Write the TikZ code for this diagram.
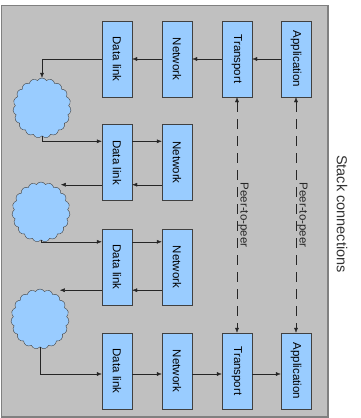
\documentclass[tikz,border=0pt]{standalone}
\usepackage{fontspec}
\setmainfont{Liberation Sans}
\usetikzlibrary{arrows.meta, shapes.symbols, calc}

\definecolor{layerblue}{HTML}{99CCFF}
\definecolor{panelgray}{HTML}{C0C0C0}

\newcommand{\vtext}[1]{\rotatebox{-90}{#1}}

\begin{document}
\begin{tikzpicture}[x=1pt, y=-1pt,
  layer/.style={draw=black!75, fill=layerblue, minimum width=30pt, minimum height=76pt,
                inner sep=0pt, font=\fontsize{11.5}{13}\selectfont},
  net/.style={cloud, cloud puffs=19, cloud puff arc=120, aspect=1, draw=black!75,
              fill=layerblue, minimum width=58pt, minimum height=60pt, inner sep=0pt},
  arr/.style={-{Latex[length=5pt,width=4pt]}, black!85, thin},
  peer/.style={{Latex[length=5pt,width=4pt]}-{Latex[length=5pt,width=4pt]}, black!85, thin,
               dash pattern=on 10pt off 7pt}]

  \useasboundingbox (0,0) rectangle (360,418);

  % Gray panel
  \draw[black!50, line width=1.2pt, fill=panelgray] (1.5,5.5) rectangle (328,417);
  \node[rotate=-90, font=\fontsize{14.5}{16}\selectfont, text=black!80] (title) at (342,214) {Stack connections};

  % Sending stack (top row)
  \node[layer] (ap1) at (296,59) {\vtext{Application}};
  \node[layer] (tr1) at (237,59) {\vtext{Transport}};
  \node[layer] (nw1) at (177,59) {\vtext{Network}};
  \node[layer] (dl1) at (117,59) {\vtext{Data link}};

  % Routers in between
  \foreach \r/\y in {2/162.5, 3/267} {
    \node[layer] (dl\r) at (117,\y) {\vtext{Data link}};
    \node[layer] (nw\r) at (177,\y) {\vtext{Network}};
  }

  % Receiving stack (bottom row)
  \node[layer] (dl4) at (117,371) {\vtext{Data link}};
  \node[layer] (nw4) at (177,371) {\vtext{Network}};
  \node[layer] (tr4) at (237,371) {\vtext{Transport}};
  \node[layer] (ap4) at (296,371) {\vtext{Application}};

  % Links (clouds)
  \node[net] (c1) at (42,108) {};
  \node[net] (c2) at (41,212) {};
  \node[net] (c3) at (40,319) {};

  % Down the sending stack
  \draw[arr] (ap1.west) -- (tr1.east);
  \draw[arr] (tr1.west) -- (nw1.east);
  \draw[arr] (nw1.west) -- (dl1.east);
  \draw[arr] (dl1.west) -| (c1.north);

  % First router
  \draw[arr] (c1.south) |- ([yshift=-17pt]dl2.north west);
  \draw[arr] ([yshift=-17pt]dl2.north east) -- ([yshift=-17pt]nw2.north west);
  \draw[arr] ([yshift=16pt]nw2.south west) -- ([yshift=16pt]dl2.south east);
  \draw[arr] ([yshift=16pt]dl2.south west) coordinate (o2) -- (o2 -| c2.north east);

  % Second router
  \draw[arr] (c2.south) |- ([yshift=-13pt]dl3.north west);
  \draw[arr] ([yshift=-13pt]dl3.north east) -- ([yshift=-13pt]nw3.north west);
  \draw[arr] ([yshift=15pt]nw3.south west) -- ([yshift=15pt]dl3.south east);
  \draw[arr] ([yshift=15pt]dl3.south west) coordinate (o3) -- (o3 -| c3.north east);

  % Up the receiving stack
  \draw[arr] (c3.south) |- ([yshift=-3pt]dl4.west);
  \draw[arr] ([yshift=-3pt]dl4.east) -- ([yshift=-3pt]nw4.west);
  \draw[arr] ([yshift=-3pt]nw4.east) -- ([yshift=-3pt]tr4.west);
  \draw[arr] ([yshift=-3pt]tr4.east) -- ([yshift=-3pt]ap4.west);

  % Peer-to-peer
  \draw[peer] (tr1.south) -- (tr4.north)
    node[midway, rotate=-90, anchor=south, inner sep=1pt, font=\fontsize{11.5}{13}\selectfont] (p1) {Peer-to-peer};
  \draw[peer] (ap1.south) -- (ap4.north)
    node[midway, rotate=-90, anchor=south, inner sep=1pt, font=\fontsize{11.5}{13}\selectfont] (p2) {Peer-to-peer};
\end{tikzpicture}
\end{document}
